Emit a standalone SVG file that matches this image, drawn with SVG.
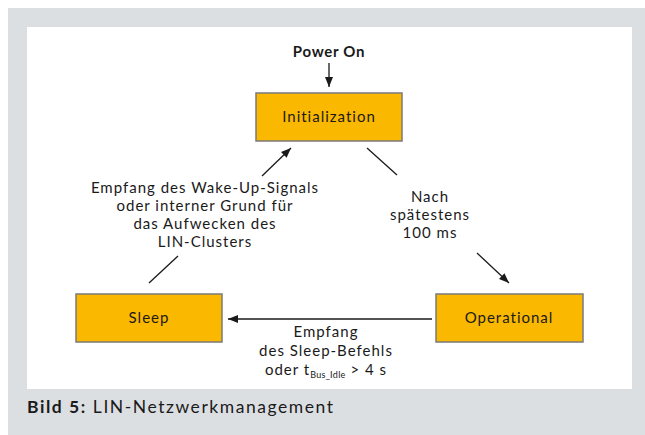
<svg xmlns="http://www.w3.org/2000/svg" width="645" height="435" viewBox="0 0 645 435">
<defs>
<style>
.t{font-family:Lato,"Noto Sans","Liberation Sans",sans-serif;font-size:15px;letter-spacing:1px;fill:#1a1a1a;text-anchor:middle}
.b{font-weight:bold;letter-spacing:0.7px}
.box{fill:#FAB800;stroke:#7a7a7a;stroke-width:1.5}
.ln{stroke:#1a1a1a;stroke-width:1.3;fill:none}
</style>
<marker id="ah" viewBox="0 0 10 10" refX="10" refY="5" markerWidth="10" markerHeight="10" markerUnits="userSpaceOnUse" orient="auto">
<path d="M0,1 L10,5 L0,9 Z" fill="#1a1a1a"/>
</marker>
</defs>
<rect x="8" y="8" width="637" height="427" fill="#DCDFE2"/>
<rect x="27" y="27" width="605" height="362" fill="#ffffff"/>
<text class="t b" x="329" y="57">Power On</text>
<g id="initialization">
<rect class="box" x="256" y="93" width="146" height="48"/>
<text class="t" x="329" y="122">Initialization</text>
</g>
<g id="operational">
<rect class="box" x="436" y="294" width="147" height="48"/>
<text class="t" x="509" y="323">Operational</text>
</g>
<g id="sleep">
<rect class="box" x="76" y="294" width="146" height="48"/>
<text class="t" x="149" y="323">Sleep</text>
</g>
<g id="connectors">
<line class="ln" x1="329" y1="63" x2="329" y2="87" marker-end="url(#ah)"/>
<line class="ln" x1="262" y1="176" x2="291" y2="148" marker-end="url(#ah)"/>
<line class="ln" x1="149" y1="283" x2="178" y2="256"/>
<line class="ln" x1="367" y1="148" x2="397" y2="175"/>
<line class="ln" x1="477" y1="253" x2="509" y2="283" marker-end="url(#ah)"/>
<line class="ln" x1="432" y1="319" x2="228" y2="319" marker-end="url(#ah)"/>
</g>
<g id="labels">
<text class="t" x="205" y="193">Empfang des Wake-Up-Signals</text>
<text class="t" x="205" y="211">oder interner Grund für</text>
<text class="t" x="205" y="229">das Aufwecken des</text>
<text class="t" x="205" y="247">LIN-Clusters</text>
<text class="t" x="430" y="202">Nach</text>
<text class="t" x="430" y="220">spätestens</text>
<text class="t" x="430" y="238">100 ms</text>
<text class="t" x="326" y="337">Empfang</text>
<text class="t" x="326" y="356">des Sleep-Befehls</text>
<text class="t" x="326" y="375">oder t<tspan font-size="9" dy="3" letter-spacing="0.3">Bus_Idle</tspan><tspan dy="-3"> &gt; 4 s</tspan></text>
</g>
<text x="27" y="413" style="font-family:Lato,'Noto Sans','Liberation Sans',sans-serif;font-size:17.5px;fill:#1a1a1a" textLength="306" lengthAdjust="spacing"><tspan font-weight="bold">Bild 5:</tspan> LIN-Netzwerkmanagement</text>
</svg>
